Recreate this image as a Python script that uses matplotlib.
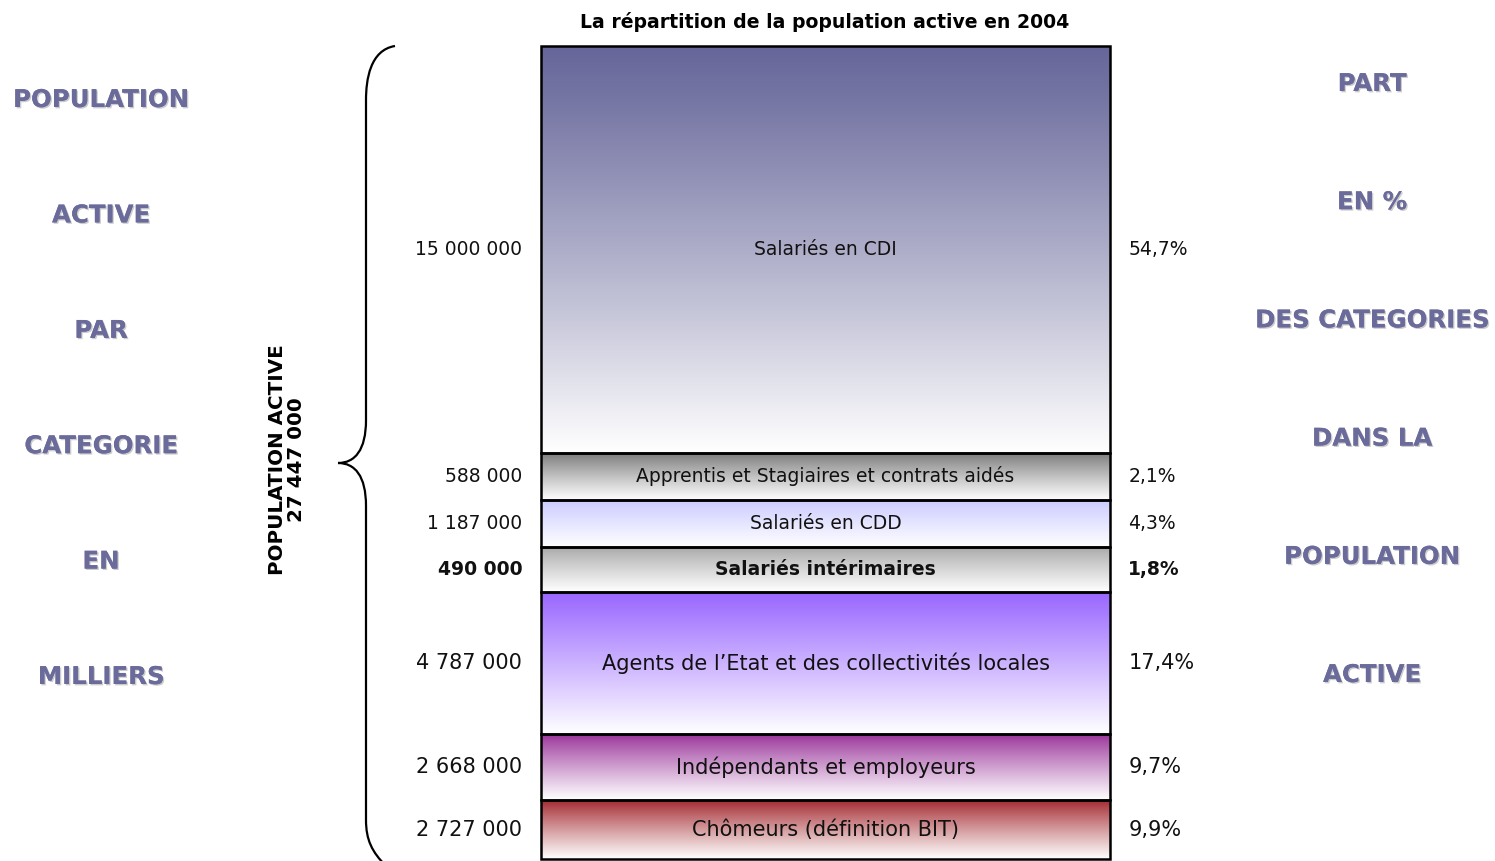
import numpy as np
import matplotlib
matplotlib.use("Agg")
import matplotlib.pyplot as plt
from matplotlib.colors import to_rgb
from matplotlib.path import Path
from matplotlib.patches import PathPatch
import matplotlib.patheffects as pe

# data
categories = ["Salariés en CDI", "Apprentis et Stagiaires et contrats aidés",
              "Salariés en CDD", "Salariés intérimaires",
              "Agents de l\u2019Etat et des collectivités locales",
              "Indépendants et employeurs", "Chômeurs (définition BIT)"]
effectifs = ["15 000 000", "588 000", "1 187 000", "490 000",
             "4 787 000", "2 668 000", "2 727 000"]
parts = ["54,7%", "2,1%", "4,3%", "1,8%", "17,4%", "9,7%", "9,9%"]
total = "27 447 000"
left_words = ["POPULATION", "ACTIVE", "PAR", "CATEGORIE", "EN", "MILLIERS"]
right_words = ["PART", "EN %", "DES CATEGORIES", "DANS LA", "POPULATION", "ACTIVE"]

# layout / style (segment heights are drawn schematically, not to scale)
seg_h = [407, 47, 47, 45, 142, 66, 59]
top_colors = ["#66669a", "#7a7a7a", "#ccccff", "#a8a8a8", "#9966ff", "#993399", "#a3282e"]
grad_pow = [1.1, 0.9, 1.0, 0.9, 1.0, 0.9, 0.9]
bold = [False, False, False, True, False, False, False]
fsize = [13.5, 13.5, 13.5, 13.5, 15, 15, 15]
word_color = "#6b6b9b"

W, H = 1495, 861
fig = plt.figure(figsize=(W / 100, H / 100), dpi=100)


def fx(x):
    return x / W


def fy(y):
    return 1 - y / H


ax = fig.add_axes([fx(541), fy(859), fx(1110) - fx(541), fy(46) - fy(859)])
ax.set_xlim(0, 1)
ax.set_ylim(sum(seg_h), 0)
ax.axis("off")

bottoms = np.concatenate([[0], np.cumsum(seg_h)[:-1]])
for i, (b, h) in enumerate(zip(bottoms, seg_h)):
    t = np.linspace(0, 1, 200) ** grad_pow[i]
    c0 = np.array(to_rgb(top_colors[i]))
    grad = c0[None, :] * (1 - t[:, None]) + np.ones(3)[None, :] * t[:, None]
    img = np.repeat(grad[:, None, :], 2, axis=1)
    ax.imshow(img, extent=[0, 1, b + h, b], aspect="auto", zorder=1,
              interpolation="bilinear")
    ax.bar(0.5, h, bottom=b, width=1, fill=False, edgecolor="black",
           linewidth=1.8, zorder=3, clip_on=False)
    yc = b + h / 2
    w = "bold" if bold[i] else "normal"
    ax.text(0.5, yc, categories[i], ha="center", va="center",
            fontsize=fsize[i], fontweight=w, color="#111111", zorder=4)
    ax.text(-0.033, yc, effectifs[i], ha="right", va="center",
            fontsize=fsize[i], fontweight=w, color="#111111")
    ax.text(1.032, yc, parts[i], ha="left", va="center",
            fontsize=fsize[i], fontweight=w, color="#111111")
ax.set_ylim(sum(seg_h), 0)

fig.text(fx(825), fy(22), "La répartition de la population active en 2004",
         ha="center", va="center", fontsize=13.6, fontweight="bold")

shadow = [pe.withSimplePatchShadow(offset=(1, -1), shadow_rgbFace="#aaaaaa", alpha=0.6),
          pe.Normal()]
for k, word in enumerate(left_words):
    fig.text(fx(101), fy(100 + k * 115.4), word, ha="center", va="center",
             fontsize=17.6, fontweight="bold", color=word_color, path_effects=shadow)
for k, word in enumerate(right_words):
    fig.text(fx(1372), fy(84 + k * 118.2), word, ha="center", va="center",
             fontsize=17.6, fontweight="bold", color=word_color, path_effects=shadow)

fig.text(fx(287), fy(460), "POPULATION ACTIVE\n" + total, ha="center", va="center",
         rotation=90, fontsize=14.3, fontweight="bold", linespacing=1.05)

# curly brace
pts = [(fx(395), fy(46)), (fx(370), fy(50)), (fx(366), fy(80)), (fx(366), fy(100)),
       (fx(366), fy(420)),
       (fx(366), fy(450)), (fx(355), fy(463)), (fx(338), fy(463)),
       (fx(355), fy(463)), (fx(366), fy(476)), (fx(366), fy(506)),
       (fx(366), fy(820)),
       (fx(366), fy(840)), (fx(372), fy(852)), (fx(386), fy(866))]
codes = [Path.MOVETO, Path.CURVE4, Path.CURVE4, Path.CURVE4,
         Path.LINETO,
         Path.CURVE4, Path.CURVE4, Path.CURVE4,
         Path.CURVE4, Path.CURVE4, Path.CURVE4,
         Path.LINETO,
         Path.CURVE4, Path.CURVE4, Path.CURVE4]
fig.patches.append(PathPatch(Path(pts, codes), transform=fig.transFigure,
                             fill=False, edgecolor="black", linewidth=1.6))

fig.savefig("out.png", dpi=100)
